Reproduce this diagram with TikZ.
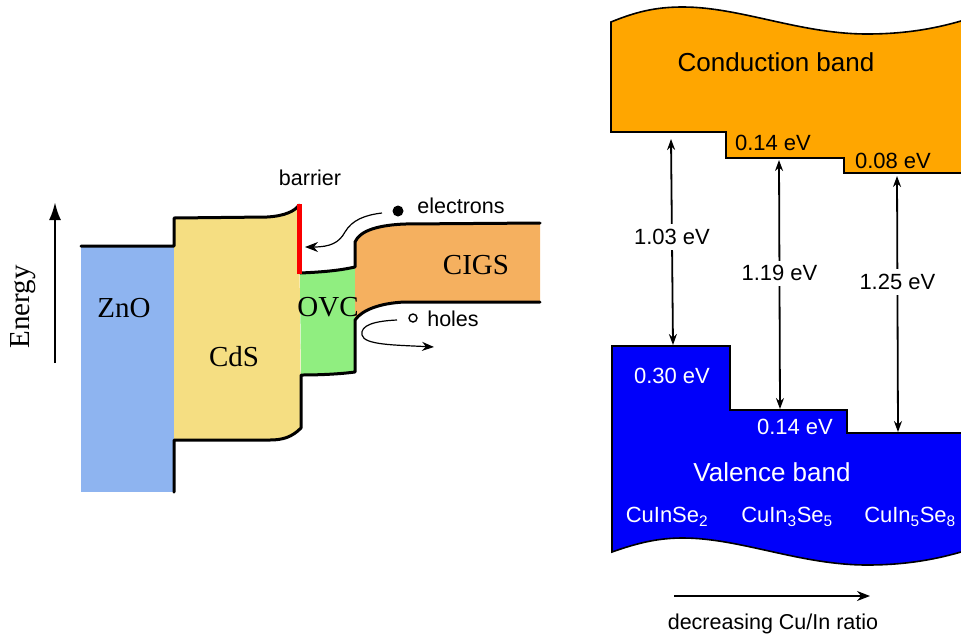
\documentclass[tikz,border=0pt]{standalone}
\usepackage{fontspec}
\setmainfont{Liberation Sans}
\newfontfamily\seriffam{Liberation Serif}
\usetikzlibrary{arrows.meta}
\definecolor{zno}{RGB}{142,180,240}
\definecolor{cds}{RGB}{245,222,130}
\definecolor{ovc}{RGB}{144,238,128}
\definecolor{cigs}{RGB}{245,176,95}
\definecolor{cband}{RGB}{255,166,0}
\definecolor{vband}{RGB}{0,0,250}
\definecolor{barred}{RGB}{250,0,0}
\tikzset{
  bandline/.style={line width=3pt, line join=round, line cap=round},
  thinline/.style={line width=1.6pt, line join=miter},
  lbl/.style={inner sep=0pt, font=\fontsize{21.5}{24}\selectfont},
  ser/.style={inner sep=0pt, font=\seriffam\fontsize{29}{32}\selectfont},
  evlbl/.style={inner sep=0pt, font=\fontsize{22}{24}\selectfont},
  evwhite/.style={evlbl, text=white},
  gaplbl/.style={fill=white, inner xsep=2pt, inner ysep=5pt, font=\fontsize{22}{24}\selectfont},
  biglbl/.style={inner sep=0pt, font=\fontsize{26}{29}\selectfont},
  gaparrow/.style={line width=1.8pt, {Stealth[length=11pt,width=8pt]}-{Stealth[length=11pt,width=8pt]}},
}
\begin{document}
\begin{tikzpicture}[x=1pt,y=-1pt]
\useasboundingbox (0,0) rectangle (961,638);
% ---------------- left diagram: fills
\fill[zno] (81,246) rectangle (174,492);
\fill[cds] (174,218) -- (267,217) .. controls (285,216) and (295,211) .. (299,205)
  -- (301,428) .. controls (292,437) and (283,440) .. (270,440) -- (174,440) -- cycle;
\fill[ovc] (300,273) .. controls (325,272) and (342,270) .. (355,267) -- (355,372)
  .. controls (340,374) and (320,375) .. (301,375) -- cycle;
\fill[cigs] (355,242) .. controls (360,230) and (380,225) .. (405,224) -- (540,223)
  -- (540,302) -- (405,302) .. controls (380,303) and (362,310) .. (355,320) -- cycle;
% ---------------- left diagram: outlines
\draw[bandline] (81,246) -- (174,246) -- (174,218) -- (267,217)
  .. controls (285,216) and (295,211) .. (299,205);
\draw[bandline] (300,273) .. controls (325,272) and (342,270) .. (355,267) -- (355,242)
  .. controls (360,230) and (380,225) .. (405,224) -- (540,223);
\draw[bandline] (540,302) -- (405,302) .. controls (380,303) and (362,310) .. (355,320)
  -- (355,372) .. controls (340,374) and (320,375) .. (301,375) -- (301,428)
  .. controls (292,437) and (283,440) .. (270,440) -- (174,440) -- (174,492);
\draw[barred, line width=5pt] (299,204) -- (299,274);
% labels
\node[ser] (zno) at (124,308) {ZnO};
\node[ser] (cds) at (234,357) {CdS};
\node[ser] (ovc) at (328,307) {OVC};
\node[ser] (cigs) at (476,265) {CIGS};
\node[lbl] (barrier) at (310,178) {barrier};
\node[lbl] (electrons) at (461,206) {electrons};
\node[lbl] (holes) at (453,319) {holes};
\node[circle, fill=black, minimum size=11pt, inner sep=0pt] (edot) at (398,211) {};
\node[circle, draw=black, line width=1.4pt, minimum size=8pt, inner sep=0pt] (hdot) at (413,318) {};
% energy axis
\coordinate (ebot) at (55,363);
\coordinate (etop) at (55,202);
\draw[line width=2.6pt, -{Latex[length=18pt,width=12pt]}] (ebot) -- (etop);
\node[ser, rotate=90] (energy) at (23,307) {Energy};
% carrier arrows
\coordinate (ws) at (382,213);
\coordinate (we) at (305,247);
\draw[line width=1.2pt, -{Stealth[length=13pt,width=10pt]}] (ws) .. controls (365,215) and (352,220) .. (345,232)
  .. controls (339,243) and (330,247) .. (we);
\coordinate (hs) at (397,320);
\coordinate (he) at (434,347);
\draw[line width=1.2pt, -{Stealth[length=12pt,width=9pt]}] (hs) .. controls (375,321) and (360,325) .. (362,335)
  .. controls (364,345) and (395,345) .. (he);
% ---------------- right diagram
\fill[cband] (611,22) .. controls (640,10) and (660,7) .. (683,7) .. controls (740,7) and (800,34) .. (867,34)
  .. controls (910,34) and (940,27) .. (961,21) -- (961,173) -- (844,173) -- (844,158) -- (726,158)
  -- (726,132) -- (611,132) -- cycle;
\draw[thinline] (961,21) .. controls (940,27) and (910,34) .. (867,34) .. controls (800,34) and (740,7) .. (683,7)
  .. controls (660,7) and (640,10) .. (611,22) -- (611,132) -- (726,132) -- (726,158) -- (844,158)
  -- (844,173) -- (961,173);
\fill[vband] (612,346) -- (730,346) -- (730,410) -- (847,410) -- (847,433) -- (961,433) -- (961,552)
  .. controls (940,558) and (910,565) .. (867,565) .. controls (800,565) and (740,538) .. (683,538)
  .. controls (660,538) and (640,542) .. (612,552) -- cycle;
\draw[thinline] (961,433) -- (847,433) -- (847,410) -- (730,410) -- (730,346) -- (612,346) -- (612,552)
  .. controls (640,542) and (660,538) .. (683,538) .. controls (740,538) and (800,565) .. (867,565)
  .. controls (910,565) and (940,558) .. (961,552);
% band labels
\node[biglbl] (cb) at (776,62) {Conduction band};
\node[evlbl] (cb1) at (773,143) {0.14 eV};
\node[evlbl] (cb2) at (893,161) {0.08 eV};
\node[evwhite] (vb0) at (672,376) {0.30 eV};
\node[evwhite] (vb1) at (795,427) {0.14 eV};
\node[biglbl, text=white] (vb) at (772,472) {Valence band};
\node[evwhite] (m1) at (667,517) {CuInSe\textsubscript{2}};
\node[evwhite] (m2) at (787,517) {CuIn\textsubscript{3}Se\textsubscript{5}};
\node[evwhite] (m3) at (910,517) {CuIn\textsubscript{5}Se\textsubscript{8}};
% gap arrows
\coordinate (g1t) at (671,139);
\coordinate (g1b) at (673,345);
\coordinate (g2t) at (779,160);
\coordinate (g2b) at (780,409);
\coordinate (g3t) at (897,176);
\coordinate (g3b) at (898,432);
\draw[gaparrow] (g1t) -- node[gaplbl, pos=0.475] (e1) {1.03 eV} (g1b);
\draw[gaparrow] (g2t) -- node[gaplbl, pos=0.455] (e2) {1.19 eV} (g2b);
\draw[gaparrow] (g3t) -- node[gaplbl, pos=0.415] (e3) {1.25 eV} (g3b);
% bottom arrow
\coordinate (rs) at (674,596);
\coordinate (re) at (870,596);
\draw[line width=1.6pt, -{Stealth[length=13pt,width=10pt]}] (rs) -- (re);
\node[lbl] (ratio) at (773,624) {decreasing Cu/In ratio};
\end{tikzpicture}
\end{document}
